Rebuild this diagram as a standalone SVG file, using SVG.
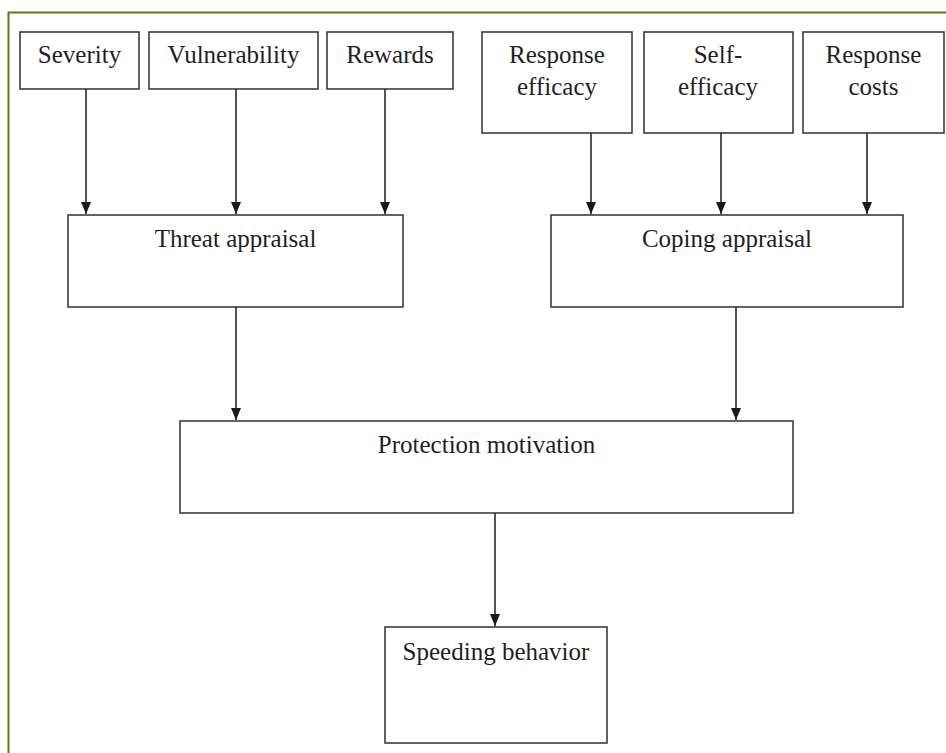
<svg xmlns="http://www.w3.org/2000/svg" width="946" height="753" viewBox="0 0 946 753">
  <defs>
    <style>
      .box { fill: #ffffff; stroke: #3c3c3c; stroke-width: 1.6; }
      .lbl { font-family: "Liberation Serif", "Times New Roman", serif; font-size: 25px; fill: #1e1e26; text-anchor: middle; }
      .conn { stroke: #2a2a2a; stroke-width: 1.6; fill: none; marker-end: url(#arr); }
    </style>
    <marker id="arr" viewBox="0 0 12 10" markerWidth="12" markerHeight="10" refX="12" refY="5" orient="auto" markerUnits="userSpaceOnUse">
      <path d="M0,0 L12,5 L0,10 z" fill="#1a1a1a"/>
    </marker>
  </defs>
  <rect x="0" y="0" width="946" height="753" fill="#ffffff"/>
  <rect id="frame" x="8.5" y="12.5" width="960" height="780" fill="none" stroke="#6e7318" stroke-width="2"/>

  <g id="severity">
    <rect class="box" x="20" y="32" width="119" height="57"/>
    <text class="lbl" x="79.5" y="63">Severity</text>
  </g>
  <g id="vulnerability">
    <rect class="box" x="149" y="32" width="169" height="57"/>
    <text class="lbl" x="233.5" y="63">Vulnerability</text>
  </g>
  <g id="rewards">
    <rect class="box" x="327" y="32" width="126" height="57"/>
    <text class="lbl" x="390" y="63">Rewards</text>
  </g>
  <g id="response-efficacy">
    <rect class="box" x="482" y="32" width="150" height="101"/>
    <text class="lbl" x="557" y="63">Response</text>
    <text class="lbl" x="557" y="95">efficacy</text>
  </g>
  <g id="self-efficacy">
    <rect class="box" x="644" y="32" width="149" height="101"/>
    <text class="lbl" x="718" y="63">Self-</text>
    <text class="lbl" x="718" y="95">efficacy</text>
  </g>
  <g id="response-costs">
    <rect class="box" x="803" y="32" width="141" height="101"/>
    <text class="lbl" x="873.5" y="63">Response</text>
    <text class="lbl" x="873.5" y="95">costs</text>
  </g>
  <g id="threat-appraisal">
    <rect class="box" x="68" y="215" width="335" height="92"/>
    <text class="lbl" x="235.5" y="247">Threat appraisal</text>
  </g>
  <g id="coping-appraisal">
    <rect class="box" x="551" y="215" width="352" height="92"/>
    <text class="lbl" x="727" y="247">Coping appraisal</text>
  </g>
  <g id="protection-motivation">
    <rect class="box" x="180" y="421" width="613" height="92"/>
    <text class="lbl" x="486.5" y="453">Protection motivation</text>
  </g>
  <g id="speeding-behavior">
    <rect class="box" x="385" y="627" width="222" height="116"/>
    <text class="lbl" x="496" y="660">Speeding behavior</text>
  </g>

  <g id="connectors">
    <line class="conn" x1="86" y1="89" x2="86" y2="214"/>
    <line class="conn" x1="236" y1="89" x2="236" y2="214"/>
    <line class="conn" x1="385" y1="89" x2="385" y2="214"/>
    <line class="conn" x1="591" y1="133" x2="591" y2="214"/>
    <line class="conn" x1="721" y1="133" x2="721" y2="214"/>
    <line class="conn" x1="867" y1="133" x2="867" y2="214"/>
    <line class="conn" x1="236" y1="307" x2="236" y2="420"/>
    <line class="conn" x1="736" y1="307" x2="736" y2="420"/>
    <line class="conn" x1="495" y1="513" x2="495" y2="626"/>
  </g>
</svg>
